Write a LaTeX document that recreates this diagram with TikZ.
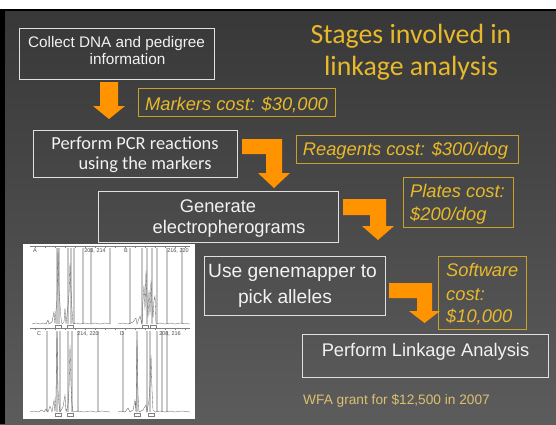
\documentclass[tikz,border=0pt]{standalone}
\usepackage{fontspec}
\setmainfont{Liberation Sans}
\newfontfamily\calib{Carlito}
\definecolor{gold}{HTML}{E8B92A}
\definecolor{goldline}{HTML}{C9A02A}
\definecolor{wfagold}{HTML}{DCC070}
\definecolor{orng}{HTML}{FF9400}
\definecolor{bgtop}{HTML}{383838}
\definecolor{bgbot}{HTML}{5C5C5C}
\definecolor{boxline}{HTML}{E0E0E0}
\definecolor{txt}{HTML}{F2F2F2}
\definecolor{plotgray}{HTML}{C8C8C8}
\begin{document}
\begin{tikzpicture}[x=1pt,y=-1pt,
  stagebox/.style={draw=boxline,line width=0.9pt,inner sep=0pt,anchor=north west},
  costbox/.style={draw=goldline,line width=0.9pt,inner sep=0pt,anchor=north west},
  ar/.style={font=\fontsize{18.3}{21}\selectfont,text=txt,inner sep=0pt,anchor=base},
  cost/.style={font=\fontsize{18.3}{21}\selectfont\itshape,text=gold,inner sep=0pt,anchor=base},
  blockarrow/.style={fill=orng,draw=none},
  gl/.style={draw=plotgray,line width=1.1pt},
  trace/.style={draw=black!65,line width=0.3pt},
  imgtxt/.style={font=\fontsize{5.5}{6}\selectfont,text=black!70,inner sep=0pt}]
\useasboundingbox (0,0) rectangle (556,424);
% background
\fill[white] (0,0) rectangle (556,11);
\shade[top color=bgtop,bottom color=bgbot] (0,11) rectangle (556,424);
\fill[black] (0,9) rectangle (556,11);
\fill[black] (0,9) rectangle (5,424);

% title
\node[font=\calib\fontsize{27.8}{33}\selectfont,text=gold,inner sep=0pt,anchor=base] (title1) at (411,43) {Stages involved in};
\node[font=\calib\fontsize{27.8}{33}\selectfont,text=gold,inner sep=0pt,anchor=base] (title2) at (411,75) {linkage analysis};

% box 1
\node[stagebox,minimum width=195pt,minimum height=51pt] (b1) at (19,28) {};
\node[ar,font=\fontsize{15.3}{18}\selectfont] (t1a) at (116.5,47) {Collect DNA and pedigree};
\node[ar,font=\fontsize{15.3}{18}\selectfont] (t1b) at (127.5,64.5) {information};

% arrow 1
\fill[blockarrow] (100,82) -- (118,82) -- (118,106) -- (125,106) -- (109,119) -- (93,106) -- (100,106) -- cycle;

% markers
\node[costbox,minimum width=197pt,minimum height=28pt] (c1) at (138,88) {};
\node[cost] (c1t) at (236.5,110) {Markers cost: \$30,000};

% box 2
\node[stagebox,minimum width=204pt,minimum height=47pt] (b2) at (33,130) {};
\node[ar,font=\calib\fontsize{18.4}{21}\selectfont] (t2a) at (135,149.5) {Perform PCR reactions};
\node[ar,font=\calib\fontsize{18.4}{21}\selectfont] (t2b) at (145,169.5) {using the markers};

% arrow 2
\fill[blockarrow] (242,139) -- (282,139) -- (282,173) -- (290,173) -- (274,188) -- (258,173) -- (266,173) -- (266,154) -- (242,154) -- cycle;

% reagents
\node[costbox,minimum width=222pt,minimum height=28pt] (c2) at (296,135) {};
\node[cost] (c2t) at (405.5,155) {Reagents cost: \$300/dog};

% box 3
\node[stagebox,minimum width=240pt,minimum height=51pt] (b3) at (98,191) {};
\node[ar] (t3a) at (218,212) {Generate};
\node[ar] (t3b) at (229,233) {electropherograms};

% arrow 3
\fill[blockarrow] (343,199) -- (386,199) -- (386,226) -- (394,226) -- (378,240) -- (362,226) -- (370,226) -- (370,215) -- (343,215) -- cycle;

% plates
\node[costbox,minimum width=110pt,minimum height=50pt] (c3) at (403,177) {};
\node[cost,anchor=base west] (c3a) at (410,197) {Plates cost:};
\node[cost,anchor=base west] (c3b) at (410,220) {\$200/dog};

% box 4
\node[stagebox,minimum width=181pt,minimum height=59pt] (b4) at (204,256) {};
\node[ar,font=\fontsize{19.2}{22}\selectfont] (t4a) at (292.5,277) {Use genemapper to};
\node[ar,font=\fontsize{19.2}{22}\selectfont] (t4b) at (285,303) {pick alleles};

% arrow 4
\fill[blockarrow] (389,283) -- (432,283) -- (432,311) -- (440,311) -- (424.5,323) -- (409,311) -- (417,311) -- (417,298) -- (389,298) -- cycle;

% software
\node[costbox,minimum width=88pt,minimum height=73pt] (c4) at (438,256) {};
\node[cost,anchor=base west] (c4a) at (446,276) {Software};
\node[cost,anchor=base west] (c4b) at (446,300) {cost:};
\node[cost,anchor=base west] (c4c) at (446,322) {\$10,000};

% box 5
\node[stagebox,minimum width=246pt,minimum height=43pt] (b5) at (302,334) {};
\node[ar] (t5) at (425.5,356) {Perform Linkage Analysis};

% grant
\node[font=\fontsize{13.7}{16}\selectfont,text=wfagold,inner sep=0pt,anchor=base west] (grant) at (303,404) {WFA grant for \$12,500 in 2007};

% electropherogram image
\fill[white] (23,244) rectangle (195,419);
\draw[black!50,line width=0.4pt] (30,246) -- (190,246);
\foreach \x in {35,45,...,185} \draw[black!50,line width=0.3pt] (\x,246) -- (\x,248);
\draw[black!50,line width=0.4pt] (30,328) -- (190,328);
\foreach \x in {35,45,...,185} \draw[black!50,line width=0.3pt] (\x,328) -- (\x,330);
% grey lines
\foreach \x in {57,59,68,71,74,83,91,110} \draw[gl] (\x,248) -- (\x,324);
\foreach \x in {130,142,147,152,157,167,182} \draw[gl] (\x,248) -- (\x,324);
\foreach \x in {47,57,60,68,72,78,98} \draw[gl] (\x,331) -- (\x,412);
\foreach \x in {123,137,147,150,157,162,167} \draw[gl] (\x,331) -- (\x,412);
% traces
\draw[trace] plot coordinates {(32,324)(36,323)(40,324)(44,323)(46,324)(48,320)(49,324)(52,322)(54,312)(55,324)(56,310)(57,300)(58,248)(59,290)(60,305)(61,318)(62,324)(64,322)(65,308)(66,324)(67,315)(68,305)(69,295)(70,263)(71,290)(72,310)(73,324)(76,323)(80,324)(85,323)(90,324)(95,323)(100,324)(105,323)(110,324)};
\draw[trace] plot coordinates {(118,324)(123,323)(128,324)(133,322)(136,318)(137,324)(140,316)(142,324)(143,300)(144,285)(145,310)(146,270)(147,300)(148,318)(149,290)(150,315)(151,280)(152,305)(153,318)(154,300)(155,296)(156,324)(160,323)(165,324)(170,323)(175,324)(180,323)(190,324)};
\draw[trace] plot coordinates {(30,412)(34,411)(38,412)(42,410)(44,412)(46,409)(48,412)(50,406)(52,412)(54,400)(55,412)(56,395)(57,332)(58,390)(59,405)(60,412)(63,407)(65,395)(66,412)(68,405)(69,390)(70,345)(71,385)(72,405)(73,412)(78,411)(84,412)(90,411)(96,412)(102,411)(110,412)};
\draw[trace] plot coordinates {(118,412)(122,411)(125,412)(128,408)(130,412)(133,410)(135,400)(136,412)(137,340)(138,395)(139,412)(143,410)(146,405)(147,412)(149,400)(150,385)(151,355)(152,390)(153,410)(155,412)(160,411)(165,412)(170,411)(175,412)(182,411)(190,412)};
% allele boxes
\foreach \x/\y in {55/325,67/325,142/325,150/325,55/413,67/413,134/413,148/413}
  \draw[black!50,line width=0.3pt] (\x,\y) rectangle ++(6,3);
% labels
\node[imgtxt] (la) at (35,251) {A};
\node[imgtxt] (lb) at (126,251) {B};
\node[imgtxt] (lc) at (39,334) {C};
\node[imgtxt] (ld) at (122,334) {D};
\node[imgtxt] (na) at (95,251) {208, 214};
\node[imgtxt] (nb) at (178,251) {216, 220};
\node[imgtxt] (nc) at (88,334) {214, 220};
\node[imgtxt] (nd) at (170,334) {208, 216};
\end{tikzpicture}
\end{document}
